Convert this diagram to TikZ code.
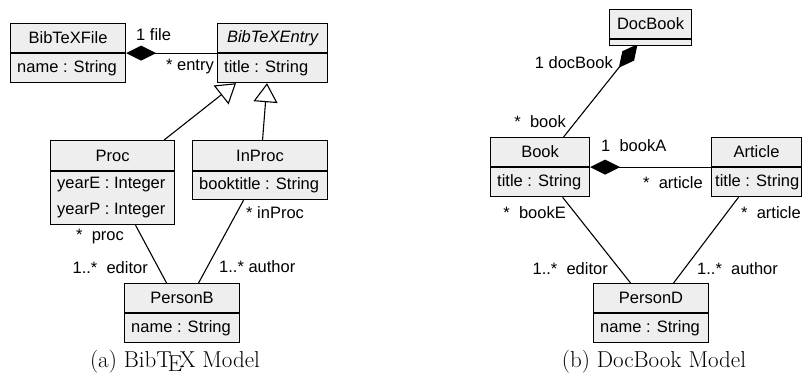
\documentclass[tikz,border=0pt]{standalone}
\usepackage{fontspec}
\setsansfont{Liberation Sans}
\usetikzlibrary{arrows.meta,calc,backgrounds}
\definecolor{boxgray}{HTML}{EEEEEE}
\newcommand{\umlfont}{\sffamily\fontsize{16.5}{19}\selectfont}
\newcommand{\capfont}{\rmfamily\fontsize{23}{27}\selectfont}
\begin{document}
\begin{tikzpicture}[x=1pt,y=-1pt,
  box/.style={draw=black, line width=1.1pt, fill=boxgray, inner sep=0pt, anchor=north west, font=\umlfont},
  attrtext/.style={font=\umlfont, inner sep=0pt, anchor=west},
  lbl/.style={font=\umlfont, inner sep=0pt},
  conn/.style={line width=1.1pt},
  gen/.style={conn, -{Triangle[length=19pt,width=24pt,fill=white,line width=1.1pt]}},
  comp/.style={conn, -{Diamond[length=30pt,width=15pt,fill=black]}},
  captxt/.style={font=\capfont, inner sep=0pt, anchor=base}
]
\useasboundingbox (0,0) rectangle (802,376);

% ---------- (a) BibTeX model ----------
\node[box, minimum width=115pt, minimum height=29pt] (bfh) at (10,23) {BibTeXFile};
\node[box, minimum width=115pt, minimum height=29pt] (bfa) at (bfh.south west) {};
\node[attrtext] (bfat) at ($(bfa.west)+(7,0)$) {name : String};

\node[box, minimum width=110pt, minimum height=29pt] (beh) at (217,23) {\itshape BibTeXEntry};
\node[box, minimum width=110pt, minimum height=29pt] (bea) at (beh.south west) {};
\node[attrtext] (beat) at ($(bea.west)+(7,0)$) {title : String};

\node[box, minimum width=124pt, minimum height=30pt] (proch) at (50,140) {Proc};
\node[box, minimum width=124pt, minimum height=53pt] (proca) at (proch.south west) {};
\node[attrtext] (procat1) at ($(proca.north west)+(7,13)$) {yearE : Integer};
\node[attrtext] (procat2) at ($(proca.north west)+(7,39)$) {yearP : Integer};

\node[box, minimum width=135pt, minimum height=30pt] (inproch) at (192,140) {InProc};
\node[box, minimum width=135pt, minimum height=28pt] (inproca) at (inproch.south west) {};
\node[attrtext] (inprocat) at ($(inproca.west)+(7,0)$) {booktitle : String};

\node[box, minimum width=115pt, minimum height=29pt] (pbh) at (124,283) {PersonB};
\node[box, minimum width=115pt, minimum height=29pt] (pba) at (pbh.south west) {};
\node[attrtext] (pbat) at ($(pba.west)+(7,0)$) {name : String};

% ---------- (b) DocBook model ----------
\node[box, minimum width=82pt, minimum height=29pt] (dbh) at (609,9) {DocBook};
\node[box, minimum width=82pt, minimum height=6pt] (dba) at (dbh.south west) {};

\node[box, minimum width=99pt, minimum height=29pt] (bookh) at (490,137) {Book};
\node[box, minimum width=99pt, minimum height=29pt] (booka) at (bookh.south west) {};
\node[attrtext] (bookat) at ($(booka.west)+(7,0)$) {title : String};

\node[box, minimum width=90pt, minimum height=29pt] (arth) at (711,137) {Article};
\node[box, minimum width=90pt, minimum height=29pt] (arta) at (arth.south west) {};
\node[attrtext] (artat) at ($(arta.west)+(4,0)$) {title : String};

\node[box, minimum width=115pt, minimum height=29pt] (pdh) at (593,283) {PersonD};
\node[box, minimum width=115pt, minimum height=29pt] (pda) at (pdh.south west) {};
\node[attrtext] (pdat) at ($(pda.west)+(7,0)$) {name : String};

% ---------- connectors ----------
\begin{scope}[on background layer]
\draw[comp] (beh.south west) -- (bfh.south east);
\draw[gen] ($(proch.north east)+(-11,0)$) -- ($(bea.south west)+(19,0)$);
\draw[gen] ($(inproch.north)+(2.5,0)$) -- ($(bea.south west)+(50,0)$);
\draw[conn] ($(proca.south)+(23,0)$) -- ($(pbh.north)+(-15.5,0)$);
\draw[conn] ($(inproca.south)+(-16.5,0)$) -- ($(pbh.north)+(16.5,0)$);

\draw[comp] ($(bookh.north)+(23.5,0)$) -- ($(dba.south)+(-13,-2)$);
\draw[comp] (arth.south west) -- (bookh.south east);
\draw[conn] ($(booka.south)+(22.5,0)$) -- ($(pdh.north)+(-20.5,0)$);
\draw[conn] ($(arta.south)+(-18,0)$) -- ($(pdh.north)+(22.5,0)$);
\end{scope}

% ---------- labels ----------
\node[lbl, anchor=west] (lfile) at (136,35) {1 file};
\node[lbl, anchor=east] (lentry) at (214,67) {* entry};
\node[lbl, anchor=west] (lproc) at (76,237) {*~~proc};
\node[lbl, anchor=east] (leditora) at (148,268) {1..*~~editor};
\node[lbl, anchor=west] (linproc) at (246,213) {* inProc};
\node[lbl, anchor=west] (lauthora) at (219,267) {1..* author};

\node[lbl, anchor=east] (ldocbook) at (613,63) {1 docBook};
\node[lbl, anchor=east] (lbook) at (566,122) {*~~book};
\node[lbl, anchor=west] (lbooka) at (601,146) {1~~bookA};
\node[lbl, anchor=east] (larticle1) at (703,183) {*~~article};
\node[lbl, anchor=east] (lbooke) at (566,213) {*~~bookE};
\node[lbl, anchor=west] (larticle2) at (741,213) {*~~article};
\node[lbl, anchor=east] (leditorb) at (608,269) {1..*~~editor};
\node[lbl, anchor=west] (lauthorb) at (697,269) {1..*~~author};

% ---------- captions ----------
\node[captxt] (capa) at (175,367) {(a) Bib\TeX\ Model};
\node[captxt] (capb) at (654,367) {(b) DocBook Model};
\end{tikzpicture}
\end{document}
